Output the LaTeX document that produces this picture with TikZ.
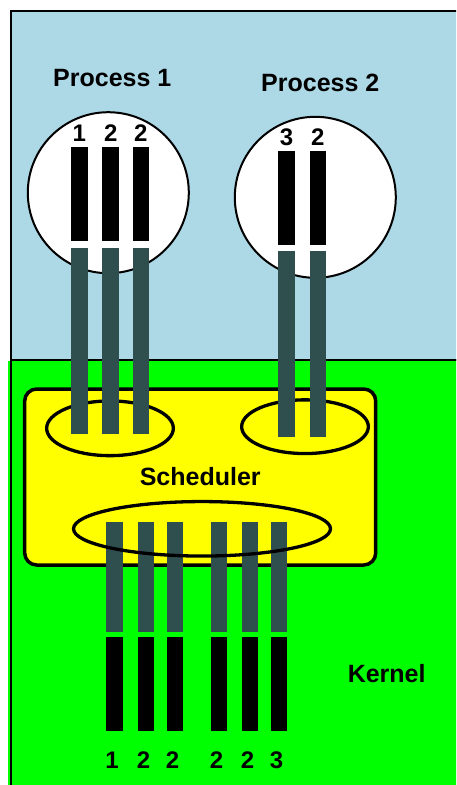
\documentclass[tikz,border=0pt]{standalone}
\usepackage{fontspec}
\setmainfont{Liberation Sans}
\usepackage{xcolor}
\definecolor{procblue}{RGB}{173,216,230}
\definecolor{kernelgreen}{RGB}{0,255,0}
\definecolor{schedyellow}{RGB}{255,255,0}
\definecolor{lwpgray}{RGB}{47,79,79}
\usetikzlibrary{shapes.geometric,positioning}

\begin{document}
\begin{tikzpicture}[x=1pt, y=-1pt,
      title/.style={font=\fontsize{25}{30}\selectfont\bfseries, inner sep=0pt},
      tid/.style={font=\fontsize{24}{28}\selectfont\bfseries, inner sep=0pt},
      proc/.style={circle, draw, fill=white, line width=2pt, minimum size=161pt, inner sep=0pt},
      pool/.style={ellipse, draw, line width=3.3pt, inner sep=0pt},
      uthread/.style={fill=black, minimum width=16.5pt, minimum height=94pt, inner sep=0pt, anchor=north},
      kthread/.style={fill=lwpgray, minimum width=16.5pt, inner sep=0pt, anchor=north},
      sched/.style={draw, fill=schedyellow, rounded corners=12pt, line width=3.5pt, minimum width=351pt, minimum height=176pt, inner sep=0pt, font=\fontsize{25}{30}\selectfont\bfseries}
    ]
    \useasboundingbox (0,0) rectangle (456,785);
    \clip (0,0) rectangle (456,785);
    % user space and kernel space
    \draw[fill=procblue, line width=2pt] (11,11) rectangle (470,360);
    \fill[kernelgreen] (8,361) rectangle (470,800);
    \draw[line width=2.5pt] (11,360) -- (470,360);
    \draw[line width=2pt] (11,360) -- (11,800);

    \node[proc] (proc1) at (108.3,192.7) {};
    \node[proc] (proc2) at (315.3,197.3) {};
    \node[title, above=24pt of proc1, xshift=4pt] (p1title) {Process 1};
    \node[title, above=24pt of proc2, xshift=5pt] (p2title) {Process 2};
    \node[title] (kernel) at (386.7,673.3) {Kernel};

    \node[sched] (sched) at (200.2,477) {Scheduler};
    \node[pool, minimum width=126.7pt, minimum height=54.7pt] (pool1) at (110,428.3) {};
    \node[pool, minimum width=126.7pt, minimum height=53.7pt] (pool2) at (305,426.7) {};

    % user threads and their LWPs
    \foreach \x/\n/\t in {79.3/1/1, 110.7/2/2, 140.8/3/2} {
      \node[uthread] (ua\n) at (\x,146.7) {};
      \node[tid, above=5pt of ua\n] {\t};
      \node[kthread, minimum height=186pt, below=6.5pt of ua\n] (la\n) {};
    }
    \foreach \x/\n/\t in {286.5/1/3, 317.8/2/2} {
      \node[uthread] (ub\n) at (\x,151) {};
      \node[tid, above=5.5pt of ub\n] {\t};
      \node[kthread, minimum height=186pt, below=5.5pt of ub\n] (lb\n) {};
    }

    % kernel threads
    \foreach \x/\n/\t in {114.5/1/1, 146/2/2, 175/3/2, 219/4/2, 250/5/2, 279/6/3} {
      \node[kthread, minimum height=109.5pt] (lk\n) at (\x,522) {};
      \node[uthread, below=5pt of lk\n] (kt\n) {};
      \node[tid, below=20pt of kt\n, xshift=-2.5pt] {\t};
    }
    \node[pool, minimum width=257pt, minimum height=54.5pt] (pool3) at (202,528.8) {};
  \end{tikzpicture}
\end{document}
